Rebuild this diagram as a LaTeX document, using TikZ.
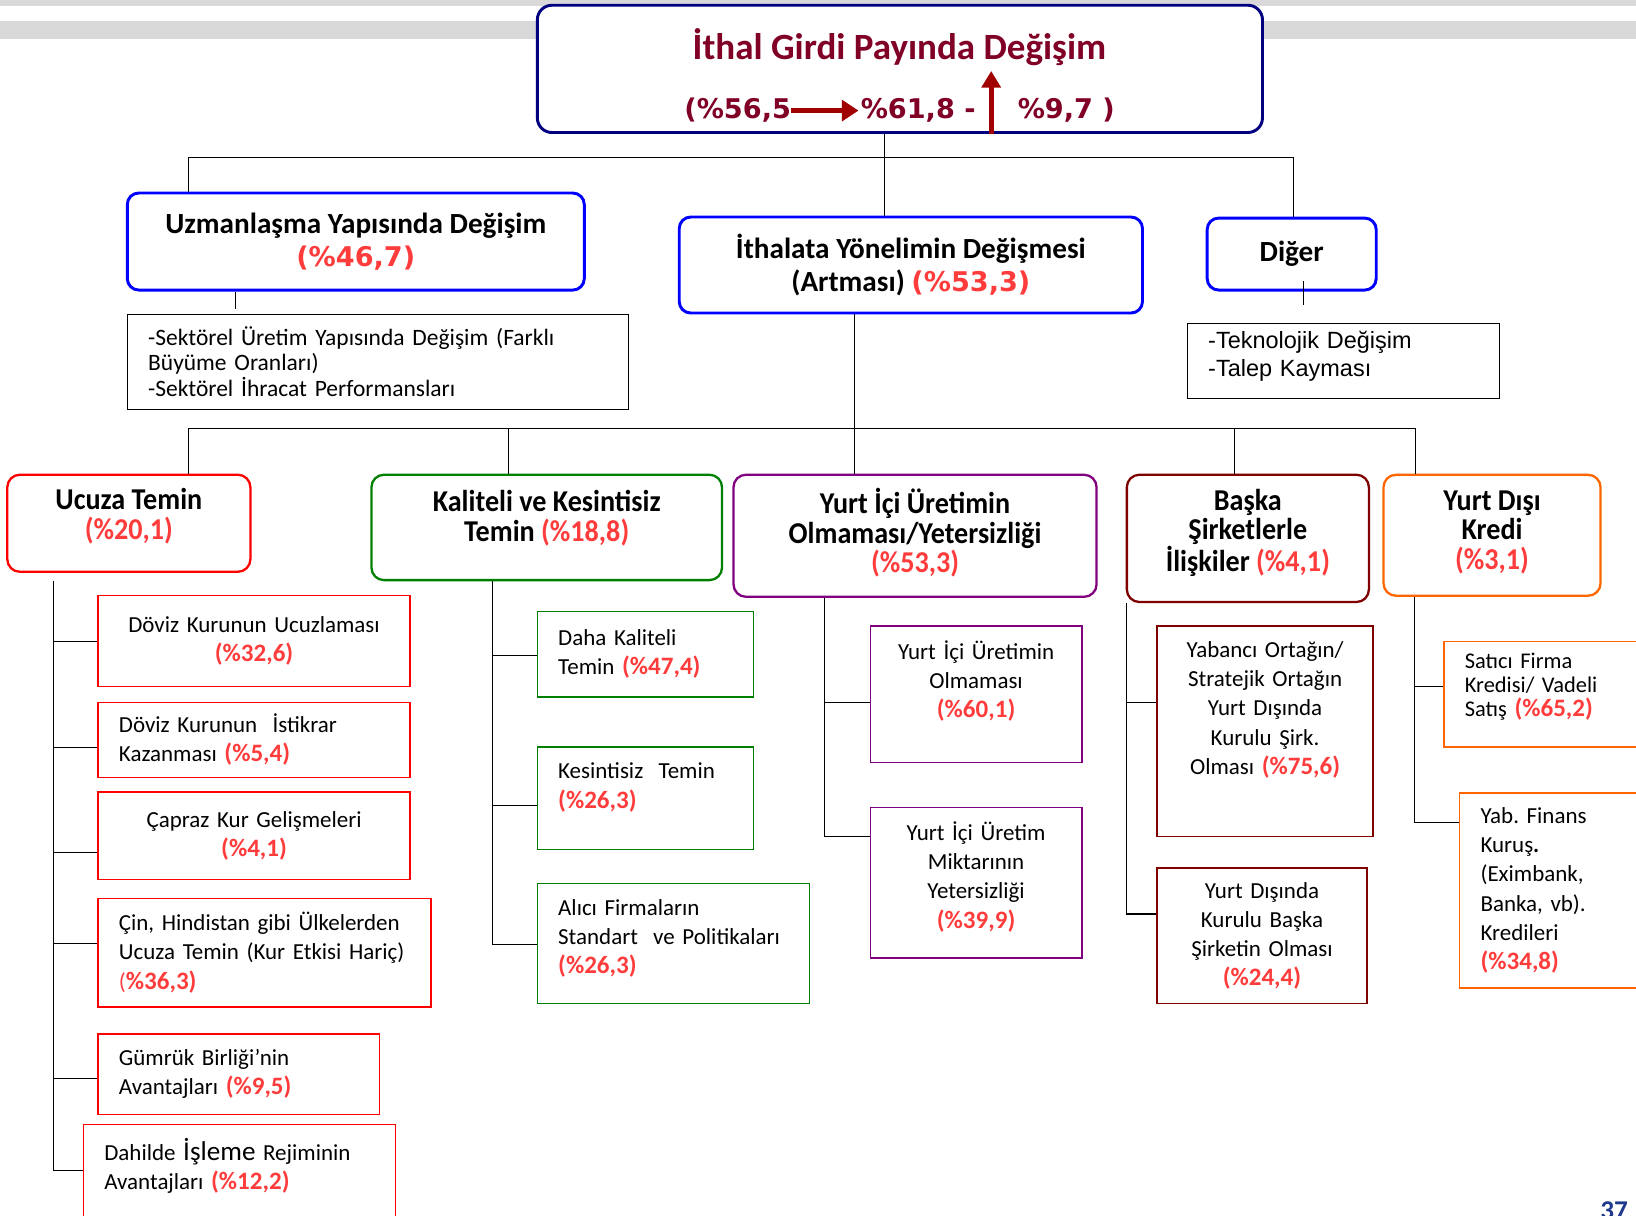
\documentclass[tikz,border=0pt]{standalone}
\usepackage{fontspec}
\setmainfont{Carlito}
\newfontfamily\condfont{Carlito}[FakeStretch=0.93]
\newfontfamily\verdfont{DejaVu Sans}
\newfontfamily\arialfont{Liberation Sans}
\usetikzlibrary{arrows.meta}
\frenchspacing
\definecolor{0_0_128}{RGB}{0, 0, 128}
\definecolor{0_0_255}{RGB}{0, 0, 255}
\definecolor{128_0_38}{RGB}{128, 0, 38}
\definecolor{160_0_0}{RGB}{160, 0, 0}
\definecolor{255_0_0}{RGB}{255, 0, 0}
\definecolor{0_128_0}{RGB}{0, 128, 0}
\definecolor{128_0_128}{RGB}{128, 0, 128}
\definecolor{128_0_0}{RGB}{128, 0, 0}
\definecolor{255_102_0}{RGB}{255, 102, 0}
\definecolor{255_60_60}{RGB}{255, 60, 60}
\definecolor{217_217_217}{RGB}{217, 217, 217}
\definecolor{31_56_140}{RGB}{31, 56, 140}
\newcommand{\pct}[1]{{\bfseries\fontsize{24}{28}\selectfont\color{255_60_60}#1}}
\newcommand{\hpct}[1]{{\color{255_60_60}#1}}
\newcommand{\vpct}[1]{{\verdfont\bfseries\fontsize{26}{32}\selectfont\color{255_60_60}#1}}
\newcommand{\padlow}[1]{\rule[-#1]{0pt}{0pt}}

\begin{document}
\begin{tikzpicture}[
        x=1pt, y=-1pt,
        every node/.style={inner sep=0pt},
        topbox/.style={draw=0_0_128, line width=2.8pt, rounded corners=14pt, fill=white},
        rowtext/.style={font=\verdfont\bfseries\fontsize{26}{30}\selectfont, text=128_0_38},
        mainbox/.style={draw=0_0_255, line width=2.8pt, rounded corners=11pt, fill=white,
            align=center, font=\bfseries\fontsize{28}{32}\selectfont},
        groupbox/.style={line width=2.2pt, rounded corners=12pt, fill=white,
            align=center, font=\condfont\bfseries\fontsize{29}{28.5}\selectfont},
        listbox/.style={draw=black, line width=0.9pt, fill=white, inner xsep=20pt, align=left},
        itembox/.style={line width=1.3pt, fill=white, inner xsep=20pt,
            font=\fontsize{22}{28}\selectfont},
        redbox/.style={itembox, draw=255_0_0},
        greenbox/.style={itembox, draw=0_128_0},
        purplebox/.style={itembox, draw=128_0_128},
        maroonbox/.style={itembox, draw=128_0_0},
        orangebox/.style={itembox, draw=255_102_0},
        link/.style={line width=1pt},
        pointer/.style={line width=4.5pt, draw=160_0_0}
    ]
    \useasboundingbox (0,0) rectangle (1568,1165);
    \clip (0,0) rectangle (1568,1165);

    % header stripes
    \fill[217_217_217] (0,0) rectangle (1568,6);
    \fill[217_217_217] (0,20) rectangle (1568,37);

    % title
    \node[topbox, minimum width=695pt, minimum height=122pt] (title) at (862.5,66) {};
    \node[font=\bfseries\fontsize{35.5}{40}\selectfont, text=128_0_38] (ttl) at (862,45) {İthal Girdi Payında Değişim};
    \node[rowtext] (r1) at (707,106) {(\%56,5};
    \node[rowtext] (r2) at (880,106) {\%61,8 -};
    \node[rowtext] (r3) at (1022,106) {\%9,7 )};
    \coordinate (upt) at (950,68);
    \draw[pointer, -{Triangle[length=16pt, width=20pt]}, shorten >=2pt] (r1.east) -- (r2.west);
    \draw[pointer, -{Triangle[length=16pt, width=18pt]}] (title.south -| upt) -- (upt);

    % first level
    \node[mainbox, minimum width=438pt, minimum height=93pt] (uzm) at (341,231.5) {Uzmanlaşma Yapısında Değişim\\\vpct{(\%46,7)}};
    \node[mainbox, minimum width=444pt, minimum height=92pt] (ith) at (873,254) {İthalata Yönelimin Değişmesi\\(Artması) \vpct{(\%53,3)}};
    \node[mainbox, minimum width=162pt, minimum height=69pt] (diger) at (1238,243.5) {Diğer};

    \node[listbox, text width=440pt, minimum height=91pt, font=\fontsize{22.5}{24.5}\selectfont] (uzmlist) at (362,346.5) {-Sektörel Üretim Yapısında Değişim (Farklı\\Büyüme Oranları)\\-Sektörel İhracat Performansları};
    \node[listbox, text width=259pt, minimum height=72pt, font=\arialfont\fontsize{22.5}{27}\selectfont] (diglist) at (1287.5,346) {-Teknolojik Değişim\\-Talep Kayması\padlow{14pt}};

    \coordinate (t0) at (848,151);
    \coordinate (tl) at (181,151);
    \coordinate (tr) at (1240,151);
    \draw[link] (title.south -| t0) -- (t0) -- (ith.north -| t0);
    \draw[link] (uzm.north -| tl) -- (tl) -- (tr) -- (diger.north -| tr);
    \coordinate (us) at (226,296);
    \draw[link] (uzm.south -| us) -- (us);
    \path ([yshift=10pt]diger.south) coordinate (dg0);
    \coordinate (ds) at (1249,292);
    \draw[link] (dg0 -| ds) -- (ds);

    % second level
    \node[groupbox, draw=255_0_0, minimum width=233pt, minimum height=93pt] (ucuza) at (123.5,501.5) {Ucuza Temin\\\hpct{(\%20,1)}\padlow{18pt}};
    \node[groupbox, draw=0_128_0, minimum width=336pt, minimum height=101pt] (kalite) at (524,505.5) {Kaliteli ve Kesintisiz\\Temin \hpct{(\%18,8)}\padlow{22pt}};
    \node[groupbox, draw=128_0_128, minimum width=348pt, minimum height=117pt] (yurtici) at (877,513.5) {Yurt İçi Üretimin\\Olmaması/Yetersizliği\\\hpct{(\%53,3)}\padlow{10pt}};
    \node[groupbox, draw=128_0_0, minimum width=232pt, minimum height=122pt] (baska) at (1196,516) {Başka\\Şirketlerle\\İlişkiler \hpct{(\%4,1)}\padlow{16pt}};
    \node[groupbox, draw=255_102_0, minimum width=208pt, minimum height=116pt] (yurtdisi) at (1430,513) {Yurt Dışı\\Kredi\\\hpct{(\%3,1)}\padlow{10pt}};

    \coordinate (m0) at (819,411);
    \coordinate (ml) at (181,411);
    \coordinate (mr) at (1357,411);
    \coordinate (mk) at (487,411);
    \coordinate (mb) at (1183,411);
    \draw[link] (ith.south -| m0) -- (yurtici.north -| m0);
    \draw[link] (ucuza.north -| ml) -- (ml) -- (mr) -- (yurtdisi.north -| mr);
    \draw[link] (mk) -- (kalite.north -| mk);
    \draw[link] (mb) -- (baska.north -| mb);

    % Ucuza Temin
    \node[redbox, align=center, inner xsep=10pt, text width=279pt, minimum height=87pt] (uc1) at (243.5,614.5) {Döviz Kurunun Ucuzlaması\\\pct{(\%32,6)}};
    \node[redbox, align=left, text width=259pt, minimum height=72pt] (uc2) at (243.5,709) {Döviz Kurunun\ \ İstikrar\\Kazanması \pct{(\%5,4)}};
    \node[redbox, align=center, inner xsep=10pt, text width=279pt, minimum height=84pt] (uc3) at (243.5,801) {Çapraz Kur Gelişmeleri\\\pct{(\%4,1)}};
    \node[redbox, align=left, text width=279pt, minimum height=104pt] (uc4) at (253.5,913) {Çin, Hindistan gibi Ülkelerden\\Ucuza Temin (Kur Etkisi Hariç)\\{\color{255_60_60}(}\pct{\%36,3)}};
    \node[redbox, align=left, text width=230pt, minimum height=77pt] (uc5) at (229,1029.5) {Gümrük Birliği’nin\\Avantajları \pct{(\%9,5)}};
    \node[redbox, align=left, text width=259pt, minimum height=122pt] (uc6) at (229.5,1139) {Dahilde {\fontsize{26}{28}\selectfont İşleme} Rejiminin\\Avantajları \pct{(\%12,2)}\padlow{47pt}};

    \coordinate (ub0) at (51,557);
    \coordinate (ub1) at (51,1122);
    \coordinate (uj1) at (51,615);
    \coordinate (uj2) at (51,716);
    \coordinate (uj3) at (51,817);
    \coordinate (uj4) at (51,904);
    \coordinate (uj5) at (51,1034);
    \draw[link] (ub0) -- (ub1) -- (ub1 -| uc6.west);
    \draw[link] (uj1) -- (uj1 -| uc1.west);
    \draw[link] (uj2) -- (uj2 -| uc2.west);
    \draw[link] (uj3) -- (uj3 -| uc3.west);
    \draw[link] (uj4) -- (uj4 -| uc4.west);
    \draw[link] (uj5) -- (uj5 -| uc5.west);

    % Kaliteli ve Kesintisiz Temin
    \node[greenbox, align=left, text width=167pt, minimum height=82pt] (ka1) at (618.5,627) {Daha Kaliteli\\Temin \pct{(\%47,4)}};
    \node[greenbox, align=left, text width=167pt, minimum height=98pt] (ka2) at (618.5,765) {Kesintisiz\ \ Temin\\\pct{(\%26,3)}\padlow{24pt}};
    \node[greenbox, align=left, text width=221pt, minimum height=115pt] (ka3) at (645.5,904.5) {Alıcı Firmaların\\Standart\ \ ve Politikaları\\\pct{(\%26,3)}\padlow{14pt}};

    \coordinate (kb1) at (472,905);
    \coordinate (kj1) at (472,628);
    \coordinate (kj2) at (472,772);
    \draw[link] (kalite.south -| kb1) -- (kb1) -- (kb1 -| ka3.west);
    \draw[link] (kj1) -- (kj1 -| ka1.west);
    \draw[link] (kj2) -- (kj2 -| ka2.west);

    % Yurt Ici Uretim
    \node[purplebox, align=center, inner xsep=10pt, text width=183pt, minimum height=131pt] (yi1) at (935.5,665.5) {Yurt İçi Üretimin\\Olmaması\\\pct{(\%60,1)}\padlow{29pt}};
    \node[purplebox, align=center, inner xsep=10pt, text width=183pt, minimum height=144pt] (yi2) at (935.5,846) {Yurt İçi Üretim\\Miktarının\\Yetersizliği\\\pct{(\%39,9)}\padlow{15pt}};

    \coordinate (yb1) at (790,802);
    \coordinate (yj1) at (790,673);
    \draw[link] (yurtici.south -| yb1) -- (yb1) -- (yb1 -| yi2.west);
    \draw[link] (yj1) -- (yj1 -| yi1.west);

    % Baska Sirketler
    \node[maroonbox, align=center, inner xsep=10pt, text width=187pt, minimum height=202pt] (bs1) at (1212.5,701) {Yabancı Ortağın/\\Stratejik Ortağın\\Yurt Dışında\\Kurulu Şirk.\\Olması \pct{(\%75,6)}\padlow{45pt}};
    \node[maroonbox, align=center, inner xsep=10pt, text width=181pt, minimum height=130pt] (bs2) at (1209.5,897) {Yurt Dışında\\Kurulu Başka\\Şirketin Olması\\\pct{(\%24,4)}};

    \coordinate (bb1) at (1080,876);
    \coordinate (bj1) at (1080,673);
    \draw[link] (baska.south -| bb1) -- (bb1) -- (bb1 -| bs2.west);
    \draw[link] (bj1) -- (bj1 -| bs1.west);

    % Yurt Disi Kredi
    \node[orangebox, align=left, text width=210pt, minimum height=101pt, font=\fontsize{21.5}{23}\selectfont] (yd1) at (1509,665.5) {Satıcı Firma\\Kredisi/ Vadeli\\Satış \pct{(\%65,2)}\padlow{18pt}};
    \node[orangebox, align=left, text width=211pt, minimum height=187pt] (yd2) at (1524.5,853.5) {Yab. Finans\\Kuruş{\bfseries.}\\(Eximbank,\\Banka, vb).\\Kredileri\\\pct{(\%34,8)}};

    \coordinate (db1) at (1356,788);
    \coordinate (dj1) at (1356,658);
    \draw[link] (yurtdisi.south -| db1) -- (db1) -- (db1 -| yd2.west);
    \draw[link] (dj1) -- (dj1 -| yd1.west);

    % page number
    \node[font=\bfseries\fontsize{26}{30}\selectfont, text=31_56_140, anchor=north] (pgno) at (1547,1152) {37};
\end{tikzpicture}
\end{document}
